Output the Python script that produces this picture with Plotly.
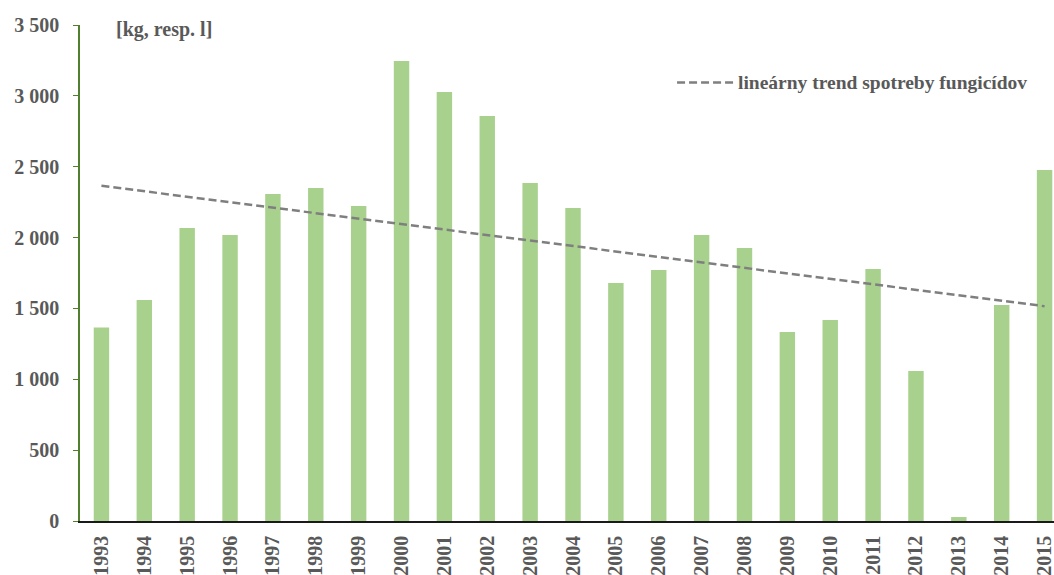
import numpy as np
import plotly.graph_objects as go

years = [str(y) for y in range(1993, 2016)]
fungicides = [1365, 1560, 2068, 2018, 2308, 2350, 2223, 3246, 3028, 2858, 2385,
              2209, 1680, 1771, 2018, 1927, 1334, 1418, 1778, 1059, 28, 1524, 2477]
y_ticks = [0, 500, 1000, 1500, 2000, 2500, 3000, 3500]

# linear least-squares trend of the yearly consumption
idx = np.arange(len(fungicides))
slope, intercept = np.polyfit(idx, fungicides, 1)
trend = slope * idx + intercept

FONT = "Liberation Serif"
GREY = "#595959"
TREND_DASH = "8px,4px"

fig = go.Figure()
fig.add_trace(go.Bar(
    x=years, y=fungicides, width=0.36,
    marker=dict(color="#a9d18e", line=dict(width=0)),
    showlegend=False,
))
fig.add_trace(go.Scatter(
    x=years, y=trend, mode="lines",
    line=dict(color="#7f7f7f", width=2.5, dash=TREND_DASH),
    showlegend=False, hoverinfo="skip",
))

fig.add_annotation(
    xref="paper", yref="paper", x=0.035, y=0.99, xanchor="left", yanchor="middle",
    text="[kg, resp. l]", showarrow=False,
    font=dict(family=FONT, size=20, color=GREY, weight="bold"),
)
# legend entry for the trend line
fig.add_shape(type="line", xref="paper", yref="paper",
              x0=0.613, x1=0.672, y0=0.884, y1=0.884,
              line=dict(color="#7f7f7f", width=2.5, dash=TREND_DASH))
fig.add_annotation(
    xref="paper", yref="paper", x=0.674, y=0.884, xanchor="left", yanchor="middle",
    text="lineárny trend spotreby fungicídov", showarrow=False,
    font=dict(family=FONT, size=19.5, color=GREY, weight="bold"),
)

fig.update_layout(
    width=1054, height=575,
    margin=dict(l=80, r=0, t=25, b=54),
    plot_bgcolor="white", paper_bgcolor="white",
    separators=", ",
    xaxis=dict(
        type="category", range=[-0.5, 22.22],
        tickangle=-90, ticks="", showgrid=False,
        showline=True, linecolor="#1a1a1a", linewidth=1.5,
        tickfont=dict(family=FONT, size=20, color=GREY, weight="bold"),
        ticklabelstandoff=5,
    ),
    yaxis=dict(
        range=[0, 3500], tickvals=y_ticks, tickformat=",d",
        showgrid=False, zeroline=False,
        showline=True, linecolor="#4f7f2f", linewidth=1.5,
        ticks="outside", ticklen=5, tickcolor="#4f7f2f",
        tickfont=dict(family=FONT, size=20, color=GREY, weight="bold"),
        ticklabelstandoff=10,
    ),
)

fig.write_html("out.html")
